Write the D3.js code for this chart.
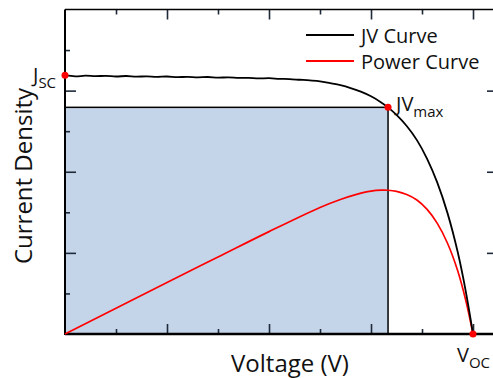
<!DOCTYPE html>
<html>
<head>
<meta charset="utf-8">
<script src="https://cdn.jsdelivr.net/npm/d3@7"></script>
<style>
  html, body { margin: 0; padding: 0; background: #fff; }
  svg { display: block; font-family: 'Open Sans', sans-serif; }
</style>
</head>
<body>
<svg width="493" height="378"></svg>
<script>
// JV curve (voltage in major-tick units, current density in major-tick units)
const jvVoltage = [0, 0.1, 0.2, 0.3, 0.4, 0.5, 0.6, 0.7, 0.8, 0.9, 1.0, 1.1, 1.2, 1.3, 1.4, 1.5, 1.6, 1.7, 1.8, 1.9, 2.0,
  2.1, 2.2, 2.3, 2.4, 2.5, 2.6, 2.7, 2.8, 2.9, 3.0, 3.1, 3.167, 3.25, 3.35, 3.45, 3.55, 3.65, 3.75, 3.85, 3.93, 4.0]
const jvCurrent = [3.19, 3.176, 3.184, 3.178, 3.182, 3.174, 3.18, 3.172, 3.176, 3.17, 3.174, 3.166, 3.17, 3.164, 3.168,
  3.16, 3.164, 3.158, 3.156, 3.15, 3.153, 3.146, 3.142, 3.134, 3.126, 3.115, 3.092, 3.067, 3.032, 2.987, 2.93, 2.855, 2.794,
  2.70, 2.564, 2.39, 2.16, 1.866, 1.49, 1.01, 0.52, 0]

// power curve
const powerVoltage = [0, 0.5, 1.0, 1.5, 2.0, 2.5, 2.7, 2.85, 3.0, 3.1, 3.167, 3.25, 3.35, 3.45, 3.55, 3.65, 3.75, 3.85, 3.93, 4.0]
const powerValue = [0, 0.318, 0.636, 0.949, 1.262, 1.56, 1.658, 1.718, 1.761, 1.773, 1.772, 1.758, 1.72, 1.652, 1.536,
  1.364, 1.119, 0.779, 0.409, 0]

// key points
const jsc = 3.19
const vmax = 3.167
const jmax = 2.794
const voc = 4.0

const xMajorTicks = [1, 2, 3, 4]
const xMinorTicks = [0.5, 1.5, 2.5, 3.5]
const yMajorTicks = [1, 2, 3]
const yMinorTicks = [0.5, 1.5, 2.5, 3.5]

const legendLabels = ['JV Curve', 'Power Curve']
const legendColors = ['#000', '#ff0000']

const margin = { top: 9.5, right: -5, bottom: 44, left: 65 }
const width = 493
const height = 378

const svg = d3.select('svg')

const x = d3.scaleLinear()
  .domain([0, 4.245])
  .range([margin.left, width - margin.right])

const y = d3.scaleLinear()
  .domain([0, 4])
  .range([height - margin.bottom, margin.top])

// max power rectangle
svg.append('rect')
  .attr('x', x(0))
  .attr('y', y(jmax))
  .attr('width', x(vmax) - x(0))
  .attr('height', y(0) - y(jmax))
  .attr('fill', '#c5d5e9')
  .attr('stroke', '#000')
  .attr('stroke-width', 1.5)

const tickColor = '#1e2a3a'

const axisTicks = (axisFn, values, size, tx, ty) => {
  svg.append('g')
    .attr('transform', `translate(${tx},${ty})`)
    .call(axisFn.tickValues(values).tickSize(size).tickFormat(''))
    .call(g => g.select('.domain').remove())
    .call(g => g.selectAll('.tick line').attr('stroke', tickColor).attr('stroke-width', 1.6))
}

axisTicks(d3.axisBottom(x), xMajorTicks, -10, 0, y(0))
axisTicks(d3.axisBottom(x), xMinorTicks, -5, 0, y(0))
axisTicks(d3.axisTop(x), xMajorTicks, -10, 0, y(4))
axisTicks(d3.axisTop(x), xMinorTicks, -5, 0, y(4))
axisTicks(d3.axisLeft(y), yMajorTicks, -11, x(0), 0)
axisTicks(d3.axisLeft(y), yMinorTicks, -5, x(0), 0)
axisTicks(d3.axisRight(y), yMajorTicks, -11, x(4.245), 0)
axisTicks(d3.axisRight(y), yMinorTicks, -5, x(4.245), 0)

// frame
svg.append('line').attr('x1', x(0)).attr('x2', width + 10).attr('y1', y(4)).attr('y2', y(4))
  .attr('stroke', '#000').attr('stroke-width', 1.6)
svg.append('line').attr('x1', x(0)).attr('x2', width + 10).attr('y1', y(0)).attr('y2', y(0))
  .attr('stroke', '#000').attr('stroke-width', 2.4)
svg.append('line').attr('x1', x(0)).attr('x2', x(0)).attr('y1', y(4)).attr('y2', y(0) + 1)
  .attr('stroke', '#000').attr('stroke-width', 2)

const line = d3.line()
  .x(d => x(d[0]))
  .y(d => y(d[1]))
  .curve(d3.curveCatmullRom)

svg.append('path')
  .datum(powerVoltage.map((v, i) => [v, powerValue[i]]))
  .attr('fill', 'none')
  .attr('stroke', '#ff0000')
  .attr('stroke-width', 1.7)
  .attr('d', line)

svg.append('path')
  .datum(jvVoltage.map((v, i) => [v, jvCurrent[i]]))
  .attr('fill', 'none')
  .attr('stroke', '#000')
  .attr('stroke-width', 1.8)
  .attr('d', line)

// key points
svg.append('g')
  .selectAll('circle')
  .data([[0, jsc], [vmax, jmax], [voc, 0]])
  .join('circle')
  .attr('cx', d => x(d[0]))
  .attr('cy', d => y(d[1]))
  .attr('r', 3.5)
  .attr('fill', '#ff0000')

// annotations
const annot = (px, py, main, sub, mainSize, subSize) => {
  const t = svg.append('text')
    .attr('x', px)
    .attr('y', py)
    .attr('font-size', mainSize)
    .attr('fill', '#111')
  t.append('tspan').text(main)
  t.append('tspan').attr('font-size', subSize).attr('dy', 6).text(sub)
}
annot(x(0) - 32, y(jsc) + 7, 'J', 'SC', 20, 15)
annot(x(vmax) + 8, y(jmax) + 4, 'JV', 'max', 20, 15)
annot(x(voc) - 16, y(0) + 28, 'V', 'OC', 20, 15)

// axis titles
svg.append('text')
  .attr('x', 290)
  .attr('y', 372)
  .attr('text-anchor', 'middle')
  .attr('font-size', 24)
  .attr('fill', '#111')
  .text('Voltage (V)')

svg.append('text')
  .attr('transform', 'translate(32,176) rotate(-90)')
  .attr('text-anchor', 'middle')
  .attr('font-size', 24)
  .attr('fill', '#111')
  .text('Current Density')

// legend
const legend = svg.append('g')
  .selectAll('g')
  .data(legendLabels)
  .join('g')
  .attr('transform', (d, i) => `translate(306,${35 + i * 26})`)

legend.append('line')
  .attr('x1', 0)
  .attr('x2', 48)
  .attr('stroke', (d, i) => legendColors[i])
  .attr('stroke-width', 1.8)

legend.append('text')
  .attr('x', 55)
  .attr('y', 7.5)
  .attr('font-size', 20)
  .attr('fill', '#111')
  .text(d => d)
</script>
</body>
</html>
